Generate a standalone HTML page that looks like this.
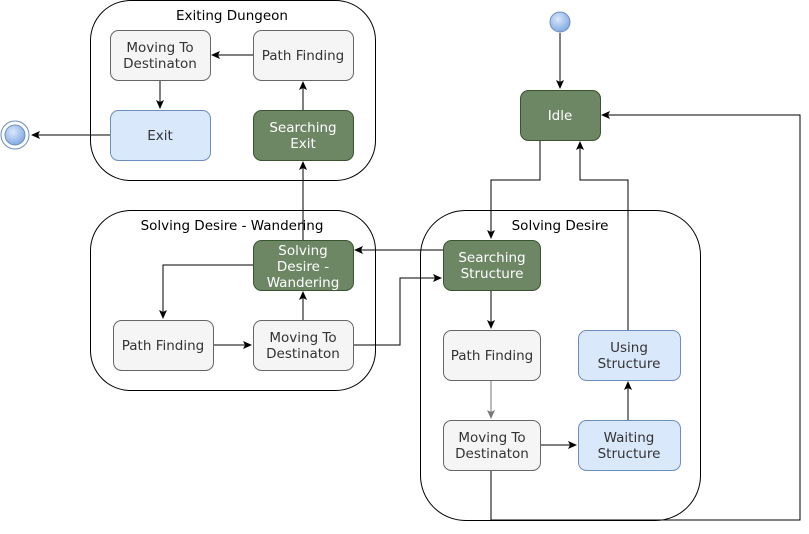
<!DOCTYPE html>
<html><head><meta charset="utf-8"><style>
html,body{margin:0;padding:0;background:#fff}
text{font-family:"DejaVu Sans","Liberation Sans",sans-serif;font-size:13.5px;text-anchor:middle}
.g{fill:#6d8764;stroke:#3a5431}
.n{fill:#f5f5f5;stroke:#666}
.b{fill:#dae8fc;stroke:#6c8ebf}
.c{fill:none;stroke:#000}
.w{fill:#fff}
.t{fill:#333}
.e{fill:none;stroke:#000;stroke-width:1}
</style></head><body>
<svg width="809" height="529" viewBox="0 0 809 529" xmlns="http://www.w3.org/2000/svg">
<defs>
<marker id="a" markerWidth="10" markerHeight="10" refX="8" refY="4" orient="auto" markerUnits="userSpaceOnUse">
<path d="M0,0 L9,4 L0,8 L2,4 z" fill="#000"/></marker>
<marker id="ag" markerWidth="10" markerHeight="10" refX="8" refY="4" orient="auto" markerUnits="userSpaceOnUse">
<path d="M0,0 L9,4 L0,8 L2,4 z" fill="#777"/></marker>
<radialGradient id="rg" cx="0.4" cy="0.35" r="0.7"><stop offset="0" stop-color="#dae8fc"/><stop offset="1" stop-color="#7ea6e0"/></radialGradient>
</defs>
<rect class="c" x="90.5" y="0.5" width="285" height="180" rx="40"/>
<text x="232" y="20" fill="#000">Exiting Dungeon</text>
<rect class="c" x="90.5" y="210.5" width="285" height="180" rx="40"/>
<text x="232" y="230" fill="#000">Solving Desire - Wandering</text>
<rect class="c" x="420.5" y="210.5" width="280" height="310" rx="45"/>
<text x="560" y="230" fill="#000">Solving Desire</text>

<path class="e" d="M560,33 V88" marker-end="url(#a)"/>
<path class="e" d="M540,140 V180 H491 V238" marker-end="url(#a)"/>
<path class="e" d="M628,330 V180 H580 V142" marker-end="url(#a)"/>
<path class="e" d="M491,470 V520 H800 V115 H602" marker-end="url(#a)"/>
<path class="e" d="M443,250 H355" marker-end="url(#a)"/>
<path class="e" d="M353,345 H400 V278 H441" marker-end="url(#a)"/>
<path class="e" d="M253,265 H163 V318" marker-end="url(#a)"/>
<path class="e" d="M213,345 H251" marker-end="url(#a)"/>
<path class="e" d="M303,320 V292" marker-end="url(#a)"/>
<path class="e" d="M303,240 V162" marker-end="url(#a)"/>
<path class="e" d="M303,110 V82" marker-end="url(#a)"/>
<path class="e" d="M253,55 H212" marker-end="url(#a)"/>
<path class="e" d="M160,80 V108" marker-end="url(#a)"/>
<path class="e" d="M110,135 H32" marker-end="url(#a)"/>
<path class="e" d="M491,290 V328" marker-end="url(#a)"/>
<path d="M491,380 V418" stroke="#777" fill="none" marker-end="url(#ag)"/>
<path class="e" d="M540,445 H576" marker-end="url(#a)"/>
<path class="e" d="M628,420 V382" marker-end="url(#a)"/>

<circle cx="560" cy="22" r="10" fill="url(#rg)" stroke="#6c8ebf"/>
<circle cx="15" cy="135" r="14" fill="#fff" stroke="#6c8ebf"/>
<circle cx="15" cy="135" r="10" fill="url(#rg)" stroke="#6c8ebf"/>

<rect class="n" x="110.5" y="30.5" width="100" height="50" rx="8"/>
<text class="t" x="160" y="52">Moving To</text><text class="t" x="160" y="68">Destinaton</text>
<rect class="n" x="253.5" y="30.5" width="100" height="50" rx="8"/>
<text class="t" x="303" y="60">Path Finding</text>
<rect class="b" x="110.5" y="110.5" width="100" height="50" rx="8"/>
<text class="t" x="160" y="140">Exit</text>
<rect class="g" x="253.5" y="110.5" width="100" height="50" rx="8"/>
<text class="w" x="303" y="132">Searching</text><text class="w" x="303" y="148">Exit</text>

<rect class="g" x="253.5" y="240.5" width="100" height="50" rx="8"/>
<text class="w" x="303" y="255">Solving</text><text class="w" x="303" y="271">Desire -</text><text class="w" x="303" y="287">Wandering</text>
<rect class="n" x="113.5" y="320.5" width="100" height="50" rx="8"/>
<text class="t" x="163" y="350">Path Finding</text>
<rect class="n" x="253.5" y="320.5" width="100" height="50" rx="8"/>
<text class="t" x="303" y="342">Moving To</text><text class="t" x="303" y="358">Destinaton</text>

<rect class="g" x="520.5" y="90.5" width="80" height="50" rx="8"/>
<text class="w" x="560" y="120">Idle</text>
<rect class="g" x="443.5" y="240.5" width="97" height="50" rx="8"/>
<text class="w" x="492" y="262">Searching</text><text class="w" x="492" y="278">Structure</text>
<rect class="n" x="443.5" y="330.5" width="97" height="50" rx="8"/>
<text class="t" x="492" y="360">Path Finding</text>
<rect class="n" x="443.5" y="420.5" width="97" height="50" rx="8"/>
<text class="t" x="492" y="442">Moving To</text><text class="t" x="492" y="458">Destinaton</text>
<rect class="b" x="578.5" y="330.5" width="102" height="50" rx="8"/>
<text class="t" x="629" y="352">Using</text><text class="t" x="629" y="368">Structure</text>
<rect class="b" x="578.5" y="420.5" width="102" height="50" rx="8"/>
<text class="t" x="629" y="442">Waiting</text><text class="t" x="629" y="458">Structure</text>
</svg>
</body></html>
